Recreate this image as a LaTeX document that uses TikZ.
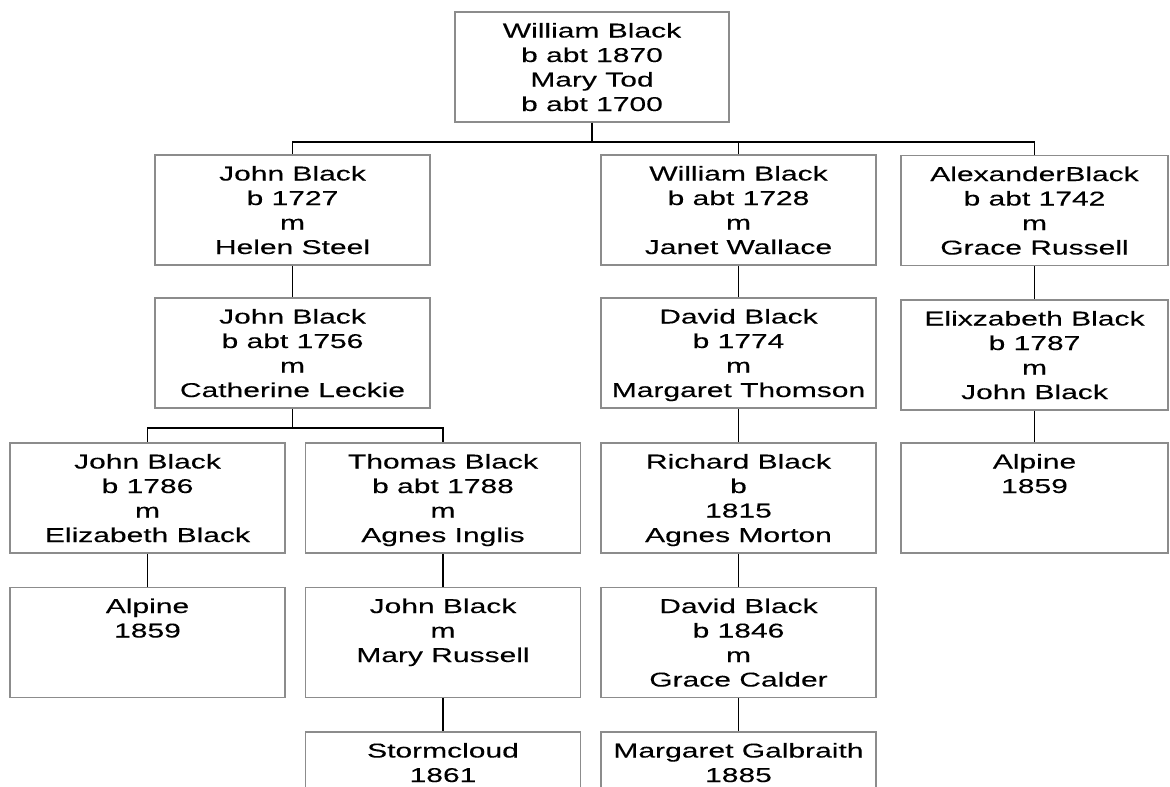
\documentclass[tikz,border=0pt]{standalone}
\usepackage{fontspec}
\setmainfont{Liberation Sans}[FakeStretch=1.5, FakeBold=0.15]
\usetikzlibrary{positioning}
\definecolor{boxgray}{RGB}{140,140,140}
% fixed size card, text from the top
\newcommand{\entry}[2][275pt]{\parbox[c][110pt][t]{#1}{\centering\rule{0pt}{25.5pt}#2}}

\begin{document}
\begin{tikzpicture}[x=1pt, y=-1pt,
    person/.style={draw=boxgray, line width=1.6pt, inner sep=0pt,
      font=\fontsize{20}{24.5}\selectfont},
    link/.style={black, line width=1.6pt}]

    \useasboundingbox (0,0) rectangle (1170,787);

    % Root couple
    \node[person] (wb) at (592,67)
      {\entry[274pt]{William Black\\b abt 1870\\Mary Tod\\b abt 1700}};

    % Children
    \node[person] (jb1) at (292.5,210) {\entry{John Black\\b 1727\\m\\Helen Steel}};
    \node[person] (wb1) at (738.5,210) {\entry{William Black\\b abt 1728\\m\\Janet Wallace}};
    \node[person] (ab1) at (1034.5,210.5) {\entry[267pt]{AlexanderBlack\\b abt 1742\\m\\Grace Russell}};

    % Grandchildren
    \node[person] (jb2) at (292.5,353) {\entry{John Black\\b abt 1756\\m\\Catherine Leckie}};
    \node[person] (db2) at (738.5,353) {\entry{David Black\\b 1774\\m\\Margaret Thomson}};
    \node[person] (eb2) at (1034.5,355) {\entry[267pt]{Elixzabeth Black\\b 1787\\m\\John Black}};

    % Third generation
    \node[person] (jb3) at (147.5,498) {\entry{John Black\\b 1786\\m\\Elizabeth Black}};
    \node[person] (tb3) at (443,498) {\entry{Thomas Black\\b abt 1788\\m\\Agnes Inglis}};
    \node[person] (rb3) at (738.5,498) {\entry{Richard Black\\b\\1815\\Agnes Morton}};
    \node[person] (al3) at (1034.5,498) {\entry[267pt]{Alpine\\1859}};

    % Fourth generation
    \node[person] (al4) at (147.5,642.5) {\entry{Alpine\\1859}};
    \node[person] (jb4) at (443,642.5) {\entry{John Black\\m\\Mary Russell}};
    \node[person] (db4) at (738.5,642.5) {\entry{David Black\\b 1846\\m\\Grace Calder}};

    % Fifth generation (cut at the page edge)
    \node[person] (st5) at (443,787) {\entry{Stormcloud\\1861}};
    \node[person] (mg5) at (738.5,787) {\entry{Margaret Galbraith\\1885}};

    % Branches
    \foreach \kid in {jb1, wb1, ab1}{
      \draw[link] (wb.south) -- ++(0,19) -| (\kid.north);
    }
    \foreach \kid in {jb3, tb3}{
      \draw[link] (jb2.south) -- ++(0,19) -| (\kid.north);
    }

    % Single lines
    \draw[link] (jb1.south) -- (jb2.north);
    \draw[link] (wb1.south) -- (db2.north);
    \draw[link] (ab1.south) -- (eb2.north);
    \draw[link] (db2.south) -- (rb3.north);
    \draw[link] (eb2.south) -- (al3.north);
    \draw[link] (jb3.south) -- (al4.north);
    \draw[link] (tb3.south) -- (jb4.north);
    \draw[link] (rb3.south) -- (db4.north);
    \draw[link] (jb4.south) -- (st5.north);
    \draw[link] (db4.south) -- (mg5.north);

\end{tikzpicture}
\end{document}
